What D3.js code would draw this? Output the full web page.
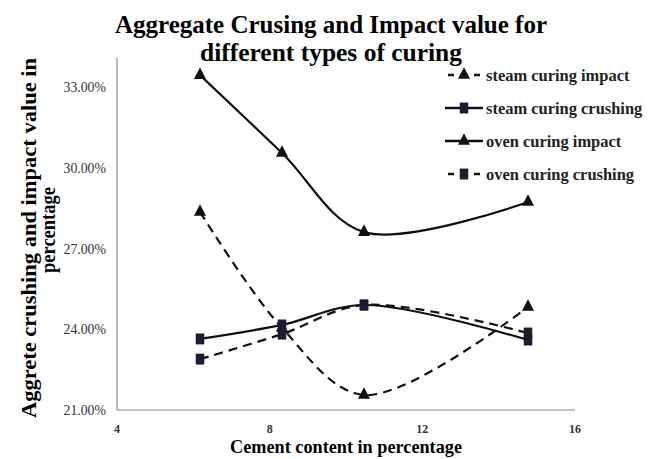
<!DOCTYPE html>
<html><head><meta charset="utf-8">
<script src="https://cdn.jsdelivr.net/npm/d3@7"></script>
<style>body{margin:0;background:#fff}svg{display:block}</style>
</head><body>
<script>
const cementContent = [6, 8, 10, 14];
const steamCuringImpact = [0.2836, 0.2405, 0.2156, 0.2483];
const steamCuringCrushing = [0.2364, 0.2416, 0.2490, 0.2360];
const ovenCuringImpact = [0.3344, 0.3055, 0.2761, 0.2873];
const ovenCuringCrushing = [0.2289, 0.2382, 0.2490, 0.2386];
const seriesNames = ["steam curing impact", "steam curing crushing", "oven curing impact", "oven curing crushing"];
const xTicks = [4, 8, 12, 16];
const yTicks = [0.21, 0.24, 0.27, 0.30, 0.33];

const series = [
  {name: seriesNames[0], values: steamCuringImpact, dash: "9,6", marker: "tri"},
  {name: seriesNames[1], values: steamCuringCrushing, dash: null, marker: "sq"},
  {name: seriesNames[2], values: ovenCuringImpact, dash: null, marker: "tri"},
  {name: seriesNames[3], values: ovenCuringCrushing, dash: "9,6", marker: "sq"}
];

const W = 660, H = 459;
const svg = d3.select("body").append("svg").attr("width", W).attr("height", H);
const serif = "'Liberation Serif', 'Times New Roman', serif";

// data scale (points) and label scale (axis labels) as in the picture
const x = d3.scaleLinear().domain([4, 16]).range([118, 610]);
const xLabel = d3.scaleLinear().domain([4, 16]).range([117, 575]);
const y = d3.scaleLinear().domain([0.21, 0.33]).range([410, 87]);

function condensed(sel, ratio) {
  sel.each(function() {
    const w = this.getComputedTextLength();
    d3.select(this).attr("textLength", w * ratio).attr("lengthAdjust", "spacingAndGlyphs");
  });
}

// axes lines
svg.append("line").attr("x1", xLabel(4)).attr("x2", xLabel(4)).attr("y1", y(0.21)).attr("y2", 58)
  .attr("stroke", "#8a8a8a").attr("stroke-width", 1.2);
svg.append("line").attr("x1", xLabel(4)).attr("x2", xLabel(16)).attr("y1", y(0.21)).attr("y2", y(0.21))
  .attr("stroke", "#8a8a8a").attr("stroke-width", 1.2);

const fmt = d3.format(".2%");
svg.selectAll(".yt").data(yTicks).enter().append("text")
  .attr("x", 106).attr("y", d => y(d)).attr("dy", "0.35em")
  .attr("text-anchor", "end").attr("font-family", serif).attr("font-size", 14.5)
  .attr("fill", "#333").text(d => fmt(d)).call(condensed, 0.95);
svg.selectAll(".xt").data(xTicks).enter().append("text")
  .attr("x", d => xLabel(d)).attr("y", 429).attr("dy", "0.35em")
  .attr("text-anchor", "middle").attr("font-family", serif).attr("font-size", 12).attr("font-weight", "bold")
  .attr("fill", "#333").text(d => d);

// titles
svg.append("text").attr("x", 331).attr("y", 33).attr("text-anchor", "middle")
  .attr("font-family", serif).attr("font-weight", "bold").attr("font-size", 25)
  .attr("textLength", 432).attr("lengthAdjust", "spacingAndGlyphs")
  .text("Aggregate Crusing and Impact value for");
svg.append("text").attr("x", 331).attr("y", 61).attr("text-anchor", "middle")
  .attr("font-family", serif).attr("font-weight", "bold").attr("font-size", 25)
  .attr("textLength", 262).attr("lengthAdjust", "spacingAndGlyphs")
  .text("different types of curing");
svg.append("text").attr("x", 346).attr("y", 453).attr("text-anchor", "middle")
  .attr("font-family", serif).attr("font-weight", "bold").attr("font-size", 19)
  .attr("textLength", 232).attr("lengthAdjust", "spacingAndGlyphs")
  .text("Cement content in percentage");
const yt = svg.append("g").attr("transform", "translate(0,238) rotate(-90)");
yt.append("text").attr("x", 0).attr("y", 36).attr("text-anchor", "middle")
  .attr("font-family", serif).attr("font-weight", "bold").attr("font-size", 22)
  .attr("textLength", 360).attr("lengthAdjust", "spacingAndGlyphs")
  .text("Aggrete crushing and impact value in");
yt.append("text").attr("x", 8).attr("y", 55).attr("text-anchor", "middle")
  .attr("font-family", serif).attr("font-weight", "bold").attr("font-size", 22)
  .attr("textLength", 86).attr("lengthAdjust", "spacingAndGlyphs")
  .text("percentage");

const line = d3.line().curve(d3.curveCatmullRom.alpha(0.5)).x(d => x(d[0])).y(d => y(d[1]));
const tri = d3.symbol().type(d3.symbolTriangle).size(70);
const sq = d3.symbol().type(d3.symbolSquare).size(90);

function drawMarker(g, m, cx, cy) {
  if (m === "tri") g.append("path").attr("d", tri()).attr("transform", `translate(${cx},${cy}) scale(0.95,1.05)`).attr("fill", "#111");
  else g.append("path").attr("d", sq()).attr("transform", `translate(${cx},${cy}) scale(0.9,1.15)`).attr("fill", "#1d1b2e");
}

series.forEach(s => {
  const pts = cementContent.map((c, i) => [c, s.values[i]]);
  const g = svg.append("g");
  g.append("path").attr("d", line(pts)).attr("fill", "none").attr("stroke", "#111")
    .attr("stroke-width", 2.2).attr("stroke-dasharray", s.dash);
  pts.forEach(p => drawMarker(g, s.marker, x(p[0]), y(p[1])));
});

// legend
const lg = svg.append("g");
series.forEach((s, i) => {
  const ly = 75 + i * 33;
  lg.append("line").attr("x1", s.dash ? 448 : 445).attr("x2", s.dash ? 480 : 483).attr("y1", ly).attr("y2", ly)
    .attr("stroke", "#111").attr("stroke-width", 2.4).attr("stroke-dasharray", s.dash ? "6,6,8,6" : null);
  drawMarker(lg, s.marker, 464, ly);
  lg.append("text").attr("x", 486).attr("y", ly).attr("dy", "0.35em")
    .attr("font-family", serif).attr("font-weight", "bold").attr("font-size", 17.5)
    .attr("fill", "#222").text(s.name).call(condensed, 0.94);
});
</script>
</body></html>
